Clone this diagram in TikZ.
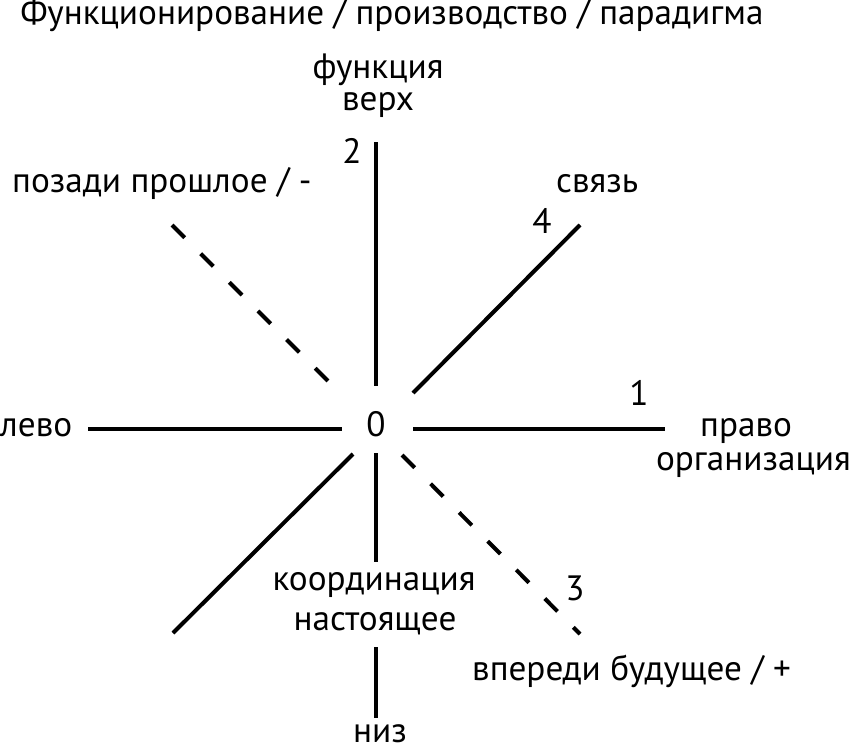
\documentclass[tikz,border=0pt]{standalone}
\usepackage{fontspec}
\setsansfont{PT Sans}
\usetikzlibrary{positioning}

\begin{document}
\begin{tikzpicture}[x=1pt,y=-1pt,
    ray/.style={line width=4pt},
    dray/.style={line width=4pt,dash pattern=on 18pt off 22.5pt},
    lbl/.style={inner sep=0pt,font=\sffamily\fontsize{35.2}{37}\selectfont}]
    \useasboundingbox (0,0) rectangle (853,752);

%    \draw[gray!50, thin, step=50] (0,0) grid (853,752);

    \node[lbl,anchor=base] (title) at (392,25) {Функционирование / производство / парадигма};

    % centre
    \node[lbl,anchor=base] (zero) at (376,436) {0};

    % ray ends
    \coordinate (upA) at (376,142);   \coordinate (upB) at (376,386);
    \coordinate (dnA) at (376,453);   \coordinate (dnB) at (376,562);
    \coordinate (dnC) at (376,647);   \coordinate (dnD) at (376,718);
    \coordinate (lfA) at (88,429);    \coordinate (lfB) at (342,429);
    \coordinate (rtA) at (413,429);   \coordinate (rtB) at (665,429);
    \coordinate (neA) at (413,393);   \coordinate (neB) at (580,225);
    \coordinate (swA) at (353,454);   \coordinate (swB) at (173,633);
    \coordinate (nwA) at (172,225);   \coordinate (nwB) at (330,383);
    \coordinate (seA) at (402,455);   \coordinate (seB) at (580,634);

    \draw[ray] (upA) -- (upB);
    \draw[ray] (dnA) -- (dnB);
    \draw[ray] (dnC) -- (dnD);
    \draw[ray] (lfA) -- (lfB);
    \draw[ray] (rtA) -- (rtB);
    \draw[ray] (neA) -- (neB);
    \draw[ray] (swA) -- (swB);
    \draw[dray] (nwA) -- (nwB);
    \draw[dray] (seA) -- (seB);

    % labels
    \node[lbl,anchor=base] (func) at (378,78) {функция};
    \node[lbl,anchor=base] (top) at (378,110) {верх};
    \node[lbl,anchor=base] (two) at (352,163) {2};
    \node[lbl,anchor=base west] (past) at (12,192) {позади прошлое / -};
    \node[lbl,anchor=base west] (link) at (556,192) {связь};
    \node[lbl,anchor=base] (four) at (542,233) {4};
    \node[lbl,anchor=base west] (left) at (0,436) {лево};
    \node[lbl,anchor=base] (one) at (639,405) {1};
    \node[lbl,anchor=base west] (right) at (700,436) {право};
    \node[lbl,anchor=base east] (org) at (851,470) {организация};
    \node[lbl,anchor=base] (coord) at (374,590) {координация};
    \node[lbl,anchor=base] (now) at (375,630) {настоящее};
    \node[lbl,anchor=base] (three) at (575,600) {3};
    \node[lbl,anchor=base west] (future) at (472,680) {впереди будущее / +};
    \node[lbl,anchor=base] (bottom) at (380,742) {низ};

\end{tikzpicture}
\end{document}
